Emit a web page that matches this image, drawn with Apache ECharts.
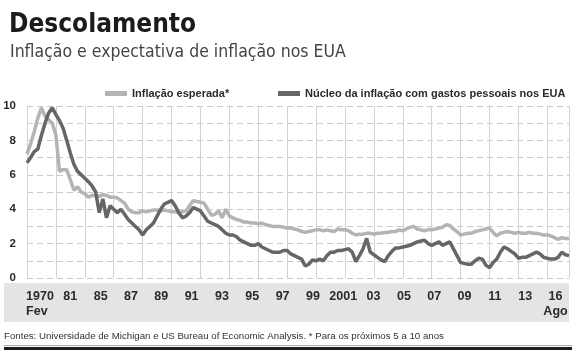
<!DOCTYPE html>
<html>
<head>
<meta charset="utf-8">
<script src="https://cdn.jsdelivr.net/npm/echarts@6/dist/echarts.min.js"></script>
<style>
  html, body { margin: 0; padding: 0; background: #fff; }
  #chart { width: 576px; height: 353px; }
</style>
</head>
<body>
<div id="chart"></div>
<script>
// valores (aprox. trimestrais)
var esperada = [
  7.2, 7.8, 8.5, 9.3, 9.9, 9.4, 9.2, 9.0, 8.3, 6.2,
  6.3, 6.3, 5.7, 5.1, 5.3, 5.0, 4.9, 4.7, 4.8, 4.8,
  4.75, 4.85, 4.8, 4.7, 4.7, 4.65, 4.5, 4.35, 4.0, 3.85,
  3.8, 3.8, 3.9, 3.85, 3.9, 3.95, 3.95, 3.9, 3.95, 3.9,
  3.85, 3.85, 3.8, 3.85, 3.9, 4.2, 4.5, 4.45, 4.4, 4.35,
  4.0, 3.65, 3.7, 3.9, 3.5, 4.0, 3.6, 3.5, 3.4, 3.35,
  3.25, 3.25, 3.2, 3.2, 3.15, 3.2, 3.1, 3.05, 3.0, 3.0,
  3.0, 2.95, 2.9, 2.9, 2.85, 2.8, 2.7, 2.65, 2.7, 2.75,
  2.8, 2.8, 2.75, 2.8, 2.75, 2.7, 2.85, 2.8, 2.8, 2.75,
  2.6, 2.5, 2.55, 2.55, 2.6, 2.6, 2.55, 2.6, 2.6, 2.65,
  2.65, 2.7, 2.7, 2.8, 2.75, 2.85, 2.95, 3.0, 2.85, 2.8,
  2.75, 2.8, 2.8, 2.85, 2.9, 2.95, 3.1, 3.05, 2.85, 2.7,
  2.5, 2.55, 2.6, 2.6, 2.7, 2.75, 2.8, 2.85, 2.9, 2.65,
  2.45, 2.6, 2.65, 2.7, 2.65, 2.6, 2.65, 2.6, 2.6, 2.65,
  2.6, 2.6, 2.55, 2.5, 2.5, 2.45, 2.35, 2.25, 2.35, 2.3, 2.3
];
var nucleo = [
  6.7, 7.0, 7.35, 7.5, 8.3, 9.0, 9.6, 9.9, 9.5, 9.15,
  8.7, 8.0, 7.25, 6.6, 6.2, 6.0, 5.8, 5.6, 5.35, 5.0,
  3.8, 4.6, 3.5, 4.2, 4.0, 3.8, 4.0, 3.7, 3.4, 3.2,
  3.0, 2.8, 2.5, 2.8, 3.0, 3.2, 3.6, 4.0, 4.3, 4.4,
  4.5, 4.2, 3.8, 3.5, 3.6, 3.8, 4.1, 4.0, 3.9, 3.6,
  3.3, 3.2, 3.1, 3.0, 2.8, 2.6, 2.5, 2.5, 2.4, 2.2,
  2.1, 2.0, 1.9, 1.9, 2.0, 1.8, 1.7, 1.6, 1.5, 1.5,
  1.5, 1.6, 1.6, 1.4, 1.3, 1.2, 1.1, 0.7, 0.8, 1.05,
  1.0, 1.1, 1.0, 1.3, 1.5, 1.5, 1.6, 1.6, 1.65, 1.7,
  1.5, 0.95, 1.3, 1.7, 2.3, 1.5, 1.35, 1.2, 1.05, 0.95,
  1.3, 1.55, 1.75, 1.75, 1.8, 1.85, 1.9, 2.0, 2.1, 2.15,
  2.2, 2.0, 1.9, 2.0, 2.1, 1.9, 2.0, 2.1, 1.7, 1.3,
  0.9, 0.85, 0.8, 0.8, 1.0, 1.15, 1.1, 0.75, 0.6, 0.9,
  1.1, 1.5, 1.8, 1.7, 1.55, 1.4, 1.15, 1.2, 1.2, 1.3,
  1.4, 1.5, 1.4, 1.2, 1.15, 1.1, 1.1, 1.2, 1.5, 1.35, 1.3
];
var anos = ['1970\nFev', '81', '85', '87', '89', '91', '93', '95', '97', '99',
  '2001', '03', '05', '07', '09', '11', '13', '16\nAgo'];
var nomes = ['Inflação esperada*', 'Núcleo da inflação com gastos pessoais nos EUA'];
var cores = ['#b4b4b4', '#666666'];

var passos = nucleo.map(function (v, i) { return i; });
var cond = "'DejaVu Sans Condensed', sans-serif";
var sans = "'Liberation Sans', Arial, sans-serif";

var myChart = echarts.init(document.getElementById('chart'));
var option = {
  animation: false,
  title: [{
    text: 'Descolamento',
    left: 4, top: 7,
    textStyle: { fontFamily: cond, fontWeight: 'bold', fontSize: 26, color: '#1b1b1b' }
  }, {
    text: 'Inflação e expectativa de inflação nos EUA',
    left: 5, top: 38,
    textStyle: { fontFamily: cond, fontWeight: 'normal', fontSize: 17.5, color: '#444' }
  }],
  legend: [{
    data: [nomes[0]], left: 100, top: 83,
    icon: 'rect', itemWidth: 22, itemHeight: 5,
    textStyle: { fontFamily: sans, fontWeight: 'bold', fontSize: 11, color: '#2a2a2a' }
  }, {
    data: [nomes[1]], left: 273, top: 83,
    icon: 'rect', itemWidth: 22, itemHeight: 5,
    textStyle: { fontFamily: sans, fontWeight: 'bold', fontSize: 11, color: '#2a2a2a' }
  }],
  graphic: [
    { type: 'rect', z: -10, shape: { x: 4, y: 283, width: 565, height: 39 }, style: { fill: '#e4e4e4' } },
    { type: 'text', left: 4, top: 331,
      style: { text: 'Fontes: Universidade de Michigan e US Bureau of Economic Analysis. * Para os próximos 5 a 10 anos',
        font: '9.7px ' + sans, fill: '#333' } },
    { type: 'rect', shape: { x: 4, y: 345, width: 568, height: 1 }, style: { fill: '#aaa' } },
    { type: 'rect', shape: { x: 4, y: 347, width: 568, height: 3 }, style: { fill: '#1e1e1e' } }
  ],
  grid: [
    { left: 27, right: 7, top: 106, bottom: 75 },
    { left: 40, right: 20.5, top: 106, bottom: 75 }
  ],
  xAxis: [{
    type: 'category', gridIndex: 0, data: passos, boundaryGap: false,
    axisLine: { show: false }, axisTick: { show: false }, axisLabel: { show: false },
    splitLine: {
      show: true,
      interval: function (i) { return i % 8 === 0 || i === passos.length - 1; },
      lineStyle: { color: '#d2d2d2', width: 1 }
    }
  }, {
    type: 'category', gridIndex: 1, data: anos, boundaryGap: false, z: 10,
    axisLine: { show: false }, axisTick: { show: false }, splitLine: { show: false },
    axisLabel: {
      interval: 0, margin: 11, fontFamily: sans, fontWeight: 'bold',
      fontSize: 12.5, lineHeight: 15, color: '#2a2a2a',
      formatter: function (v) {
        var p = v.split('\n');
        if (p.length < 2) return v;
        return '{a|' + p[0] + '}\n{' + (p[0] === '1970' ? 'l' : 'a') + '|' + p[1] + '}';
      },
      rich: {
        a: { fontFamily: sans, fontWeight: 'bold', fontSize: 12.5, lineHeight: 15, color: '#2a2a2a' },
        l: { fontFamily: sans, fontWeight: 'bold', fontSize: 12.5, lineHeight: 15, color: '#2a2a2a', align: 'left' }
      }
    }
  }],
  yAxis: [{
    type: 'value', gridIndex: 0, min: 0, max: 10, interval: 1,
    axisLine: { show: false }, axisTick: { show: false },
    axisLabel: {
      margin: 11, fontFamily: sans, fontWeight: 'bold', fontSize: 11.5, color: '#2a2a2a',
      formatter: function (v) { return v % 2 === 0 ? String(v) : ''; }
    },
    splitLine: { lineStyle: { color: '#c9c9c9', type: [6, 4], width: 1 } }
  }, {
    type: 'value', gridIndex: 1, min: 0, max: 10, show: false
  }],
  series: [{
    name: nomes[0], type: 'line', data: esperada, showSymbol: false,
    lineStyle: { color: cores[0], width: 3.5 }, itemStyle: { color: cores[0] }
  }, {
    name: nomes[1], type: 'line', data: nucleo, showSymbol: false,
    lineStyle: { color: cores[1], width: 3.5 }, itemStyle: { color: cores[1] }
  }]
};
myChart.setOption(option);
</script>
</body>
</html>
